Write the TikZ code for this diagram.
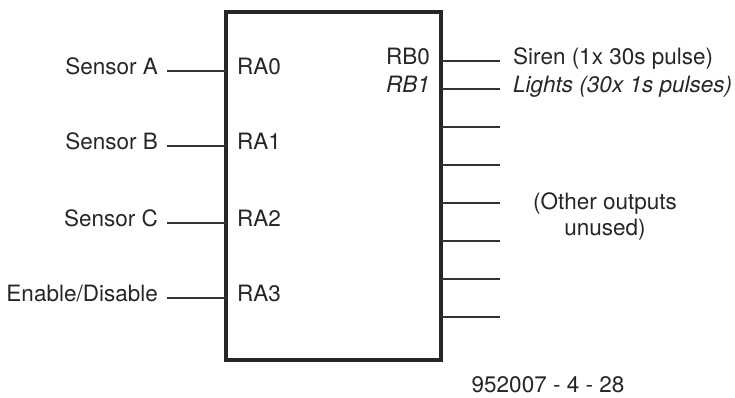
\documentclass[tikz,border=0pt]{standalone}
\usepackage{fontspec}
\setmainfont{TeX Gyre Heros}
\begin{document}
\begin{tikzpicture}[x=1pt,y=-1pt,
  pin/.style={line width=1.5pt,color=black!80},
  lbl/.style={inner sep=0pt,font=\fontsize{22.5}{26}\selectfont,text=black!85},
  box/.style={draw=black!85,line width=3.2pt}]
\useasboundingbox (0,0) rectangle (735,397);
% box
\draw[box] (226,12) rectangle (441,360);
% left pins
\foreach \n/\y/\t in {0/71/{Sensor A},1/146/{Sensor B},2/223/{Sensor C},3/298/{Enable/Disable}}{
  \coordinate (pa\n) at (226,\y);
  \coordinate (la\n) at (167,\y);
  \node[lbl,anchor=mid east] (ta\n) at (158,\y+1) {\t};
  \node[lbl,anchor=mid west] (na\n) at (237,\y+1) {RA\n};
  \draw[pin] (la\n) -- (pa\n);
}
% right pins
\foreach \n/\y in {0/61,1/89,2/127,3/165,4/203,5/241,6/279,7/317}{
  \coordinate (pb\n) at (441,\y);
  \coordinate (lb\n) at (500,\y);
  \draw[pin] (pb\n) -- (lb\n);
}
\node[lbl,anchor=mid east] (nb0) at (430,62) {RB0};
\node[lbl,anchor=mid east] (nb1) at (430,90) {\itshape RB1};
\node[lbl,anchor=mid west] (tb0) at (513,62) {Siren (1x 30s pulse)};
\node[lbl,anchor=mid west] (tb1) at (513,90) {\itshape Lights (30x 1s pulses)};
\node[lbl,align=center] (other) at (605,216) {(Other outputs\\unused)};
\node[lbl,anchor=base,text depth=0pt] (code) at (548,392) {952007 - 4 - 28};
\end{tikzpicture}
\end{document}
